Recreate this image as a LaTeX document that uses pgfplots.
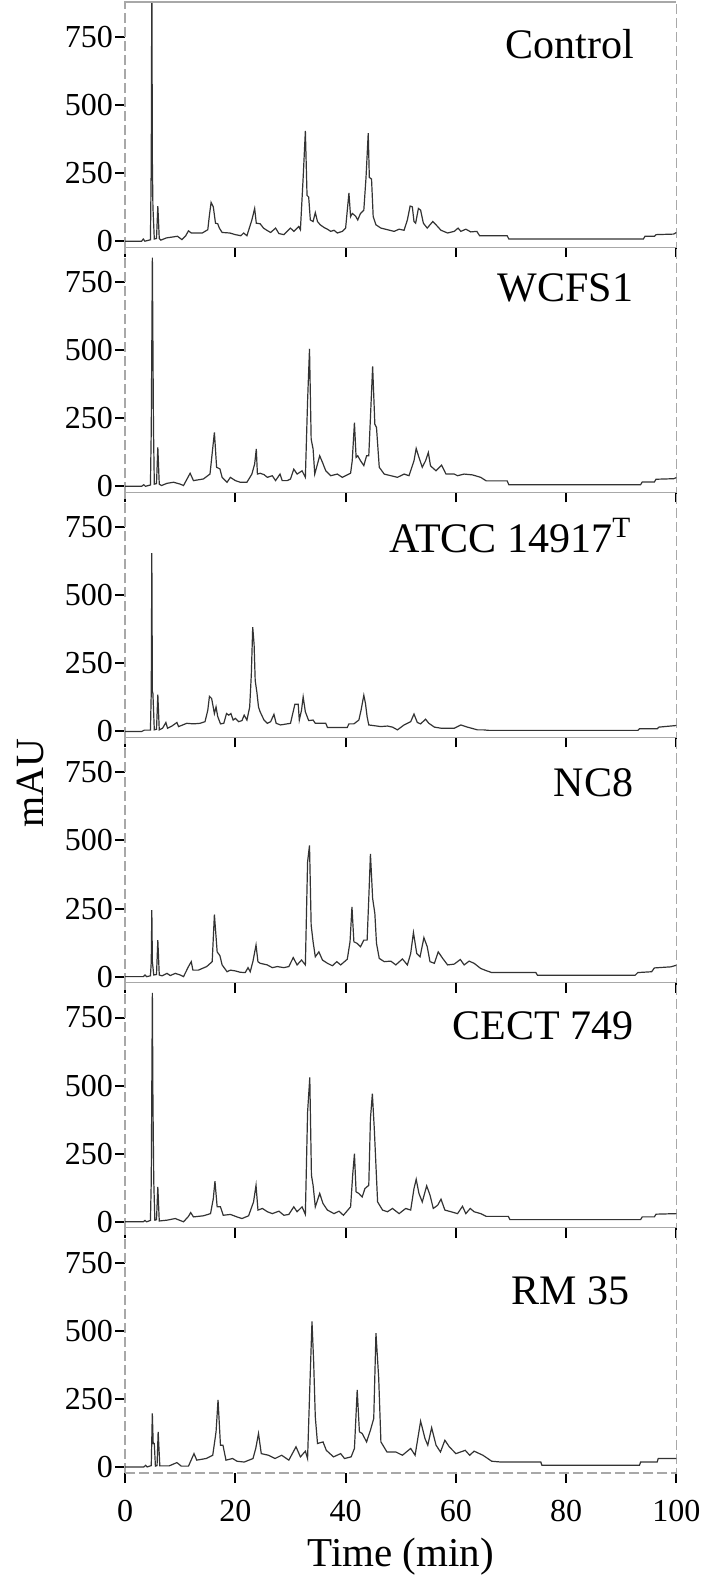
\documentclass[border=0pt]{standalone}
\usepackage{fontspec}
\setmainfont{Liberation Serif}
\usepackage{pgfplots}
\pgfplotsset{compat=1.18}
\usetikzlibrary{calc}
\definecolor{trace}{HTML}{333333}
\definecolor{frame}{HTML}{A8A8A8}
\pgfplotsset{
  chrom/.style={
    scale only axis, width=275.5pt, height=122.5pt,
    xmin=0, xmax=100, ymin=-22, ymax=878,
    xtick={0,20,...,100}, ytick={0,250,500,750},
    tick pos=left, tick align=outside,
    major tick length=5pt,
    tick style={black, line width=1pt},
    axis line style={draw=frame, line width=0.6pt, dash pattern=on 5pt off 2pt},
    tick label style={font=\fontsize{16}{16}\selectfont},
    yticklabel style={xshift=2.5pt},
    xticklabel style={yshift=-5pt},
    /pgf/number format/assume math mode=true,
  },
  trace/.style={draw=trace, line width=0.6pt, mark=none},
}
\tikzset{plabel/.style={anchor=base east, font=\fontsize{21}{21}\selectfont}}
\begin{document}
\begin{tikzpicture}
% Control
\begin{axis}[chrom, name=p1, at={(0,0)}, anchor=north west, xticklabels={}]
\addplot[trace] coordinates {(0,0) (3.0,0) (3.3,8) (3.6,0) (4.6,5) (4.75,290) (4.85,1000) (4.95,290) (5.05,126) (5.3,8) (5.7,10) (5.94,129) (6.2,10) (6.5,4) (7.5,12) (8.5,15) (9.5,18) (10.3,6) (11.0,20) (11.5,38) (12.0,30) (14.0,30) (15.0,42) (15.3,96) (15.6,142) (16.0,126) (16.4,66) (16.8,64) (17.1,48) (17.6,32) (19.0,30) (20.0,24) (21.0,20) (21.5,30) (22.1,20) (23.0,78) (23.5,120) (23.8,66) (24.5,64) (25.1,48) (25.7,40) (26.4,32) (27.3,48) (27.9,28) (28.8,24) (30.0,48) (30.6,36) (31.5,54) (31.8,42) (32.3,234) (32.7,405) (33.0,168) (33.3,162) (33.6,78) (34.1,72) (34.5,105) (34.9,72) (35.4,60) (36.1,50) (36.7,44) (37.3,36) (37.9,40) (38.5,30) (39.4,36) (40.0,48) (40.6,177) (40.9,90) (41.2,102) (41.8,92) (42.2,78) (42.7,102) (43.3,114) (43.7,234) (44.1,397) (44.3,234) (44.7,228) (45.0,90) (45.5,60) (46.4,48) (47.6,42) (48.8,36) (49.7,44) (50.6,40) (51.2,78) (51.7,129) (52.1,126) (52.4,72) (52.7,66) (53.2,120) (53.6,114) (54.1,66) (54.8,48) (55.8,72) (56.4,60) (57.3,40) (58.5,30) (59.7,36) (60.4,48) (60.9,36) (61.8,44) (62.7,34) (63.8,36) (64.3,20) (69.3,20) (69.6,8) (94.0,8) (94.3,18) (96.0,18) (96.3,24) (99.5,26) (100,32)};
\node[plabel, xshift=-17.5pt, yshift=-28pt] at (rel axis cs:1,1) {Control};
\end{axis}
% WCFS1
\begin{axis}[chrom, name=p2, at={(p1.south west)}, anchor=north west, xticklabels={}]
\addplot[trace] coordinates {(0,0) (3.0,0) (3.4,6) (3.7,0) (4.6,5) (4.75,210) (4.85,520) (4.95,840) (5.05,520) (5.15,216) (5.3,8) (5.7,10) (5.94,143) (6.2,8) (6.6,3) (7.6,11) (8.8,15) (10.0,8) (10.6,3) (11.8,48) (12.4,21) (14.2,27) (15.4,45) (16.2,198) (16.6,70) (17.2,64) (17.6,33) (18.5,15) (19.1,33) (20.0,21) (20.9,15) (22.1,15) (23.0,45) (23.5,82) (23.8,137) (24.0,45) (24.5,48) (25.2,43) (25.8,33) (26.7,39) (27.3,21) (28.1,45) (28.5,21) (29.4,21) (30.0,27) (30.6,63) (31.2,45) (32.1,57) (32.7,33) (33.1,313) (33.45,505) (33.75,173) (34.1,137) (34.4,45) (35.3,112) (35.8,88) (36.4,57) (37.3,39) (38.5,45) (39.4,33) (40.9,48) (41.2,94) (41.6,234) (41.9,106) (42.2,112) (42.7,94) (43.3,76) (43.8,112) (44.2,112) (44.5,252) (44.9,440) (45.3,228) (45.6,216) (46.1,70) (47.0,45) (48.2,39) (49.4,33) (50.6,45) (51.5,39) (52.4,94) (52.8,139) (53.3,106) (53.9,70) (54.5,94) (55.0,124) (55.4,75) (56.4,57) (57.4,78) (58.2,45) (59.7,45) (60.3,39) (61.5,45) (63.0,42) (64.5,33) (65.5,20) (69.3,20) (69.6,6) (93.5,6) (93.8,16) (96.0,16) (96.3,26) (99.5,28) (100,32)};
\node[plabel, xshift=-18pt, yshift=-27pt] at (rel axis cs:1,1) {WCFS1};
\end{axis}
% ATCC 14917T
\begin{axis}[chrom, name=p3, at={(p2.south west)}, anchor=north west, xticklabels={}]
\addplot[trace] coordinates {(0,0) (3.0,0) (3.5,5) (4.6,5) (4.75,147) (4.85,655) (4.95,147) (5.05,139) (5.3,6) (5.7,8) (5.94,135) (6.2,6) (6.8,12) (7.4,33) (7.7,12) (8.5,20) (9.4,33) (9.7,18) (11.2,30) (12.4,28) (13.6,30) (14.5,36) (15.0,78) (15.3,129) (15.7,121) (16.2,66) (16.5,90) (16.8,55) (17.3,28) (17.9,30) (18.4,66) (18.8,60) (19.2,66) (19.6,42) (20.0,48) (20.6,36) (21.2,40) (21.6,60) (22.1,42) (22.6,90) (22.9,211) (23.15,383) (23.4,320) (23.6,187) (23.9,145) (24.2,90) (24.5,72) (25.2,42) (25.8,30) (26.4,36) (27.0,63) (27.4,30) (28.2,24) (30.0,30) (30.8,100) (31.4,100) (31.6,42) (32.0,78) (32.3,127) (32.7,72) (33.3,40) (34.1,42) (34.5,30) (36.4,30) (36.7,15) (40.3,15) (40.6,28) (41.5,28) (42.4,42) (42.8,78) (43.3,133) (43.6,103) (43.9,54) (44.2,24) (46.4,18) (47.6,20) (48.5,16) (49.4,6) (50.6,24) (51.8,36) (52.4,64) (53.0,33) (53.6,28) (54.5,45) (55.1,30) (56.1,16) (57.3,12) (59.7,12) (60.9,24) (62.1,16) (63.9,6) (65.0,6) (66,4) (93.0,4) (93.3,10) (96.5,10) (96.8,16) (100,22)};
\node[plabel, xshift=-19pt, yshift=-30pt] at (rel axis cs:1,1) {ATCC 14917\textsuperscript{T}};
\end{axis}
% NC8
\begin{axis}[chrom, name=p4, at={(p3.south west)}, anchor=north west, xticklabels={}]
\addplot[trace] coordinates {(0,0) (3.3,0) (3.6,6) (3.9,0) (4.6,3) (4.75,55) (4.85,244) (4.95,55) (5.2,6) (5.7,8) (5.94,134) (6.2,6) (6.7,3) (7.6,12) (8.2,4) (9.1,12) (10.0,6) (10.6,0) (11.5,37) (12.0,55) (12.3,24) (13.3,24) (14.8,37) (15.8,55) (16.2,228) (16.7,91) (17.2,77) (17.6,43) (18.5,18) (19.1,24) (20.0,21) (20.9,16) (21.8,15) (22.3,33) (22.7,18) (23.2,57) (23.75,116) (24.1,55) (24.5,49) (25.8,43) (26.7,33) (27.6,37) (28.8,33) (29.7,37) (30.5,70) (31.2,43) (32.0,61) (32.7,43) (33.1,421) (33.45,482) (33.75,189) (34.1,128) (34.5,73) (35.15,91) (35.8,61) (36.7,49) (37.6,40) (38.4,55) (39.1,43) (40.3,64) (40.8,128) (41.15,256) (41.5,128) (42.1,122) (42.7,110) (43.3,134) (43.9,134) (44.2,287) (44.5,451) (44.9,287) (45.3,232) (45.6,122) (46.1,67) (47.0,55) (48.2,57) (49.1,43) (50.3,65) (51.2,43) (51.8,85) (52.3,162) (52.9,85) (53.5,73) (54.2,143) (54.8,110) (55.3,55) (56.1,49) (56.8,91) (57.6,67) (58.5,43) (59.7,46) (60.8,63) (61.5,43) (62.4,57) (63.3,49) (64.5,30) (65.5,22) (66.5,15) (74.5,15) (74.8,5) (92.5,5) (93.0,15) (95.5,18) (96.0,32) (99.0,36) (100,42)};
\node[plabel, xshift=-18pt, yshift=-29.5pt] at (rel axis cs:1,1) {NC8};
\end{axis}
% CECT 749
\begin{axis}[chrom, name=p5, at={(p4.south west)}, anchor=north west, xticklabels={}]
\addplot[trace] coordinates {(0,0) (3.3,0) (3.6,5) (3.9,0) (4.6,5) (4.75,150) (4.85,500) (4.95,840) (5.05,450) (5.2,150) (5.4,6) (5.7,8) (5.94,128) (6.2,3) (7.6,6) (9.1,12) (10.6,0) (11.5,20) (11.9,34) (12.4,18) (14.2,22) (15.5,30) (16.0,85) (16.3,149) (16.7,55) (17.3,55) (17.8,24) (19.1,27) (20.3,18) (21.2,12) (22.4,22) (23.3,73) (23.75,134) (24.1,43) (24.9,49) (25.8,37) (26.7,30) (27.9,39) (28.8,24) (29.7,27) (30.6,55) (31.2,37) (32.1,55) (32.7,27) (33.1,402) (33.5,530) (33.8,171) (34.1,134) (34.5,55) (35.3,104) (35.9,67) (36.7,43) (37.9,30) (38.8,39) (39.6,24) (40.9,55) (41.3,177) (41.6,250) (41.9,110) (42.4,104) (43.0,91) (43.5,122) (44.2,134) (44.5,378) (44.85,470) (45.2,341) (45.5,207) (45.8,73) (46.7,43) (47.6,37) (48.5,49) (49.7,30) (50.9,49) (51.8,43) (52.4,122) (52.8,156) (53.3,104) (53.9,73) (54.7,132) (55.3,98) (55.9,49) (56.7,61) (57.3,83) (58.0,43) (59.1,37) (60.3,30) (61.2,57) (61.8,30) (62.6,49) (63.3,37) (64.5,30) (65.5,20) (69.5,20) (69.8,8) (93.5,8) (93.8,18) (96.0,18) (96.3,28) (100,30)};
\node[plabel, xshift=-18pt, yshift=-28.5pt] at (rel axis cs:1,1) {CECT 749};
\end{axis}
% RM 35
\begin{axis}[chrom, name=p6, at={(p5.south west)}, anchor=north west]
\addplot[trace] coordinates {(0,0) (3.4,0) (3.73,6) (4.0,0) (4.75,5) (4.94,197) (5.1,86) (5.3,86) (5.5,3) (5.8,5) (6.0,129) (6.3,4) (8.0,4) (9.4,16) (10.2,3) (11.5,3) (12.5,49) (13.0,25) (14.7,31) (15.9,43) (16.5,129) (16.86,246) (17.3,80) (17.75,80) (18.3,25) (19.5,31) (20.3,21) (21.6,18) (23.2,31) (23.7,68) (24.2,123) (24.7,49) (26.0,43) (27.2,31) (28.4,43) (29.7,25) (31.0,74) (31.8,37) (32.7,58) (33.1,31) (33.5,289) (33.9,534) (34.2,387) (34.5,184) (34.9,86) (35.9,92) (36.5,61) (37.8,37) (39.1,49) (39.8,31) (41.0,37) (41.6,68) (42.1,283) (42.5,129) (43.0,123) (43.8,92) (44.5,135) (45.1,178) (45.5,491) (46.0,326) (46.4,92) (47.5,55) (49.1,55) (50.3,43) (51.8,68) (52.6,43) (53.6,168) (54.4,104) (54.9,80) (55.6,144) (56.4,80) (57.2,55) (58.0,98) (58.8,74) (60.0,49) (61.7,61) (62.5,43) (63.3,58) (64.9,43) (66.5,21) (68.2,18) (75.4,18) (75.6,6) (93.3,6) (93.5,18) (96.5,18) (96.7,31) (100,31)};
\node[plabel, xshift=-20pt, yshift=-38.5pt] at (rel axis cs:1,1) {RM 35};
\end{axis}
\draw[frame, line width=0.6pt] (p1.north west) -- (p1.north east);
\node[rotate=90, font=\fontsize{20}{20}\selectfont] at ($(p4.north west)+(-47.5pt,-23pt)$) {mAU};
\node[anchor=base, font=\fontsize{20.5}{20.5}\selectfont] at ($(p6.south)+(0,-46.5pt)$) {Time (min)};
\pgfresetboundingbox
\path ($(p1.north west)+(-62.5pt,1pt)$) rectangle ($(p6.south east)+(12pt,-51pt)$);
\end{tikzpicture}
\end{document}
